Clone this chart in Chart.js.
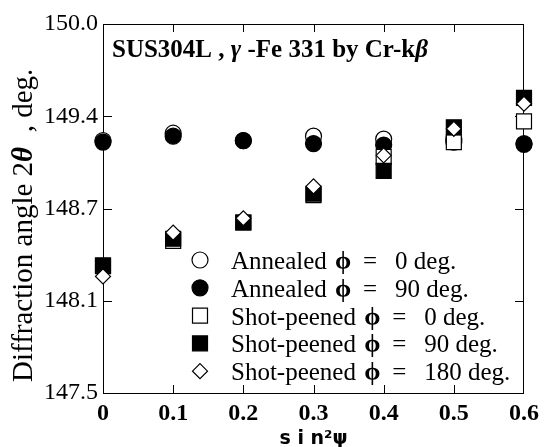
<!DOCTYPE html>
<html>
<head>
<meta charset="utf-8">
<script src="https://cdn.jsdelivr.net/npm/chart.js@4.4.0/dist/chart.umd.min.js"></script>
<style>
  body { margin: 0; background: #fff; }
  #wrap { width: 549px; height: 447px; }
</style>
</head>
<body>
<div id="wrap"><canvas id="chart" width="549" height="447"></canvas></div>
<script>
"use strict";

// sin^2(psi) positions
var sin2psi = [0, 0.1, 0.2, 0.3, 0.4, 0.5, 0.6];

// diffraction angle 2theta, deg.
var annealed0 = [149.21, 149.26, 149.21, 149.24, 149.22, 149.20, 149.19];
var annealed90 = [149.20, 149.24, 149.21, 149.19, 149.18, 149.22, 149.185];
var shot0 = [148.36, 148.53, 148.655, 148.84, 149.10, 149.20, 149.34];
var shot90 = [148.365, 148.545, 148.655, 148.85, 149.005, 149.30, 149.50];
var shot180 = [148.29, 148.587, 148.684, 148.90, 149.11, 149.29, 149.46];

var seriesNames = ["Annealed", "Annealed", "Shot-peened", "Shot-peened", "Shot-peened"];
var phiAngles = ["0", "90", "0", "90", "180"];

var xTickLabels = ["0", "0.1", "0.2", "0.3", "0.4", "0.5", "0.6"];
var yTickLabels = ["147.5", "148.1", "148.7", "149.4", "150.0"];

var serif = "'Liberation Serif', 'Times New Roman', serif";

function toPoints(ys) {
    return ys.map(function(y, i) { return { x: sin2psi[i], y: y }; });
}

var markerStyles = [
    { pointStyle: "circle", radius: 8, fill: "#fff" },
    { pointStyle: "circle", radius: 8, fill: "#000" },
    { pointStyle: "rect", radius: 10.6, fill: "#fff" },
    { pointStyle: "rect", radius: 10.6, fill: "#000" },
    { pointStyle: "rectRot", radius: 7.5, fill: "#fff" }
];

var seriesData = [annealed0, annealed90, shot0, shot90, shot180];

var datasets = seriesData.map(function(ys, i) {
    var m = markerStyles[i];
    return {
        label: seriesNames[i] + " \u03D5 = " + phiAngles[i] + " deg.",
        data: toPoints(ys),
        showLine: false,
        pointStyle: m.pointStyle,
        pointRadius: m.radius,
        pointHoverRadius: m.radius,
        pointBackgroundColor: m.fill,
        pointBorderColor: "#000",
        pointBorderWidth: 1.2,
        order: 5 - i,   // last series drawn on top
        clip: false
    };
});

// draw one marker by hand (used by the legend)
function drawMarker(ctx, m, x, y) {
    ctx.save();
    ctx.fillStyle = m.fill;
    ctx.strokeStyle = "#000";
    ctx.lineWidth = 1.2;
    ctx.beginPath();
    if (m.pointStyle === "circle") {
        ctx.arc(x, y, m.radius, 0, Math.PI * 2);
    } else if (m.pointStyle === "rect") {
        var s = m.radius * Math.SQRT1_2;
        ctx.rect(x - s, y - s, 2 * s, 2 * s);
    } else {
        ctx.moveTo(x, y - m.radius);
        ctx.lineTo(x + m.radius, y);
        ctx.lineTo(x, y + m.radius);
        ctx.lineTo(x - m.radius, y);
        ctx.closePath();
    }
    ctx.fill();
    ctx.stroke();
    ctx.restore();
}

// draw text pieces one after another, each with its own font
function drawRuns(ctx, runs, x, y) {
    runs.forEach(function(r) {
        ctx.font = r.font;
        ctx.fillText(r.text, x, y);
        x += ctx.measureText(r.text).width;
    });
    return x;
}

var framePlugin = {
    id: "frame",
    beforeDatasetsDraw: function(chart) {
        var ctx = chart.ctx;
        var a = chart.chartArea;
        var xs = chart.scales.x, ys = chart.scales.y;
        ctx.save();
        ctx.strokeStyle = "#000";
        ctx.lineWidth = 1;
        ctx.strokeRect(a.left + 0.5, a.top + 0.5, a.right - a.left - 1, a.bottom - a.top);
        ctx.beginPath();
        // inward ticks on all four sides
        xs.ticks.forEach(function(t, i) {
            if (i === 0 || i === xs.ticks.length - 1) return;
            var px = Math.round(xs.getPixelForValue(t.value)) + 0.5;
            ctx.moveTo(px, a.bottom); ctx.lineTo(px, a.bottom - 8);
            ctx.moveTo(px, a.top); ctx.lineTo(px, a.top + 8);
        });
        ys.ticks.forEach(function(t, i) {
            if (i === 0 || i === ys.ticks.length - 1) return;
            var py = Math.round(ys.getPixelForValue(t.value)) + 0.5;
            ctx.moveTo(a.left, py); ctx.lineTo(a.left + 9, py);
            ctx.moveTo(a.right, py); ctx.lineTo(a.right - 9, py);
        });
        ctx.stroke();
        ctx.restore();
    },
    afterDraw: function(chart) {
        var ctx = chart.ctx;
        var a = chart.chartArea;
        ctx.save();
        ctx.fillStyle = "#000";
        ctx.textBaseline = "alphabetic";

        // title inside the plot
        var bold = "bold 25px " + serif;
        var boldIt = "italic bold 25px " + serif;
        drawRuns(ctx, [
            { text: "SUS304L , ", font: bold },
            { text: "\u03B3", font: boldIt },
            { text: " -Fe 331 by Cr-k", font: bold },
            { text: "\u03B2", font: boldIt }
        ], a.left + 9, a.top + 33);

        // legend inside the plot
        var regular = "25px " + serif;
        var phiFont = "bold 26px " + serif;
        seriesNames.forEach(function(name, i) {
            var y = a.top + 236 + i * 27.8;
            drawMarker(ctx, markerStyles[i], a.left + 97, y);
            ctx.fillStyle = "#000";
            var px = drawRuns(ctx, [{ text: name + " ", font: regular }], a.left + 128, y + 9);
            drawRuns(ctx, [{ text: "\u03D5", font: phiFont }], px + 2, y + 9);
            drawRuns(ctx, [{ text: "=", font: regular }], px + 30, y + 9);
            drawRuns(ctx, [{ text: phiAngles[i] + " deg.", font: regular }], px + 62, y + 9);
        });

        // y axis title, rotated
        ctx.translate(22 + 10, 382);
        ctx.rotate(-Math.PI / 2);
        drawRuns(ctx, [
            { text: "Diffraction angle 2", font: "29px " + serif },
            { text: "\u03B8", font: "italic bold 29px " + serif },
            { text: "  , deg.", font: "29px " + serif }
        ], 0, 0);
        ctx.restore();
    }
};

new Chart(document.getElementById("chart"), {
    type: "scatter",
    data: { datasets: datasets },
    options: {
        responsive: false,
        devicePixelRatio: 1,
        animation: false,
        layout: { padding: { left: 0, right: 25, top: 24, bottom: 0 } },
        scales: {
            x: {
                type: "linear",
                position: "bottom",
                min: 0,
                max: 0.6,
                grid: { display: false, drawTicks: false },
                border: { display: false },
                ticks: {
                    stepSize: 0.1,
                    color: "#000",
                    padding: 6,
                    maxRotation: 0,
                    font: { family: serif, size: 24, weight: "bold" },
                    callback: function(v, i) { return xTickLabels[i]; }
                },
                title: {
                    display: true,
                    text: "s i n\u00B2\u03C8",
                    color: "#000",
                    font: { family: "'DejaVu Sans', sans-serif", size: 19, weight: "bold", lineHeight: 1 },
                    padding: { top: 0, bottom: -2 }
                },
                afterFit: function(scale) { scale.height = 54; }
            },
            y: {
                type: "linear",
                min: 147.5,
                max: 150,
                grid: { display: false, drawTicks: false },
                border: { display: false },
                ticks: {
                    stepSize: 0.625,
                    color: "#000",
                    padding: 5,
                    font: { family: serif, size: 24 },
                    callback: function(v, i) { return yTickLabels[i]; }
                },
                title: { display: false },
                afterFit: function(scale) { scale.width = 103; }
            }
        },
        plugins: {
            legend: { display: false },
            tooltip: { enabled: false },
            title: { display: false }
        }
    },
    plugins: [framePlugin]
});
</script>
</body>
</html>
